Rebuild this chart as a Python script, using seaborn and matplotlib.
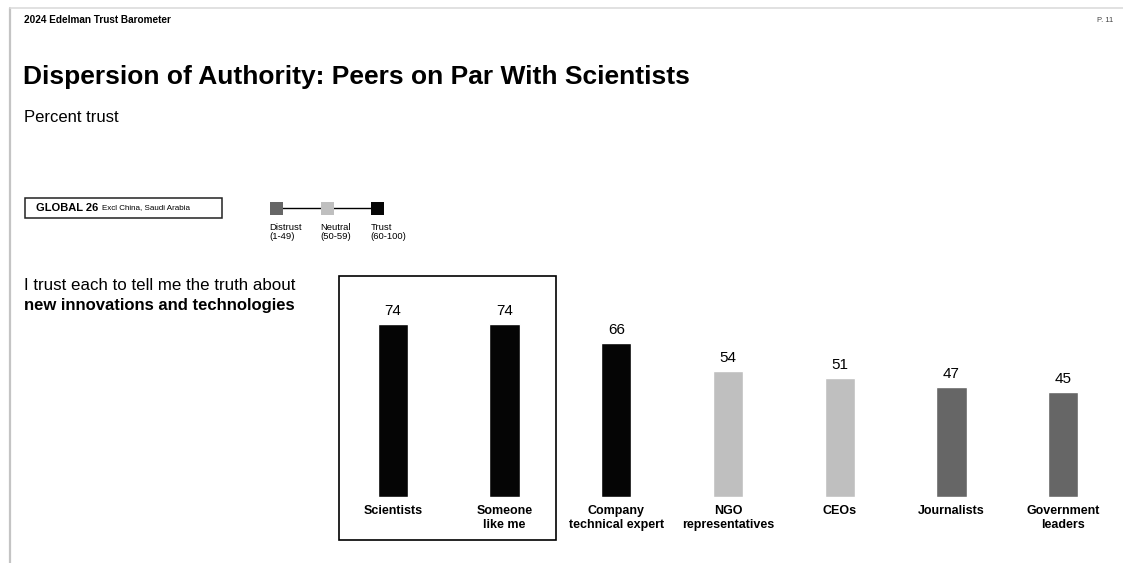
import matplotlib
matplotlib.use("Agg")
import matplotlib.pyplot as plt
from matplotlib.patches import Rectangle
from matplotlib.lines import Line2D
import seaborn as sns
import pandas as pd

# --- data ---------------------------------------------------------------
categories = ["Scientists", "Someone\nlike me", "Company\ntechnical expert",
              "NGO\nrepresentatives", "CEOs", "Journalists", "Government\nleaders"]
trust_pct = [74, 74, 66, 54, 51, 47, 45]

tier_names = ["Distrust", "Neutral", "Trust"]
tier_ranges = ["(1-49)", "(50-59)", "(60-100)"]
tier_colors = ["#666666", "#bfbfbf", "#050505"]


def tier_of(v):
    if v >= 60:
        return 2
    if v >= 50:
        return 1
    return 0


bar_colors = [tier_colors[tier_of(v)] for v in trust_pct]

df = pd.DataFrame({"who": categories, "pct": trust_pct})

# --- figure -------------------------------------------------------------
sns.set_theme(style="white")
plt.rcParams["font.family"] = ["Liberation Sans", "DejaVu Sans"]
plt.rcParams["text.color"] = "black"
plt.rcParams["xtick.color"] = "black"
plt.rcParams["xtick.labelcolor"] = "black"

W, H = 1123, 563
fig = plt.figure(figsize=(W / 100, H / 100), dpi=100)
fig.patch.set_facecolor("white")


def fx(px):
    return px / W


def fy(py):
    return 1 - py / H


# slide edge shading
fig.add_artist(Line2D([fx(10), fx(10)], [fy(8), 0], color="#c4c4c4", lw=1.6))
fig.add_artist(Line2D([fx(10), 1], [fy(8), fy(8)], color="#dcdcdc", lw=1.2))

# header texts
fig.text(fx(24), fy(20), "2024 Edelman Trust Barometer", fontsize=7.2,
         fontweight="bold", va="center", ha="left")
fig.text(fx(1113), fy(20), "P. 11", fontsize=5.5, color="#444444",
         va="center", ha="right")
fig.text(fx(23), fy(77), "Dispersion of Authority: Peers on Par With Scientists",
         fontsize=19, fontweight="bold", va="center", ha="left")
fig.text(fx(24), fy(118), "Percent trust", fontsize=12, va="center", ha="left")

# region box
fig.add_artist(Rectangle((fx(25), fy(218)), fx(197), 20 / H, fill=False,
                         edgecolor="#222222", lw=1.1))
t_glob = fig.text(fx(36), fy(208), "GLOBAL 26", fontsize=8, fontweight="bold",
                  va="center", ha="left")
fig.add_artist(matplotlib.text.Annotation(
    "Excl China, Saudi Arabia", xy=(1, 0.5), xycoords=t_glob,
    xytext=(3, 0), textcoords="offset points", fontsize=5.8,
    va="center", ha="left"))

# colour key
key_x = [276.5, 327.5, 377.5]
key_y = 208.5
fig.add_artist(Line2D([fx(key_x[0]), fx(key_x[-1])], [fy(key_y), fy(key_y)],
                      color="black", lw=1.0, zorder=1))
for cx, name, rng, col in zip(key_x, tier_names, tier_ranges, tier_colors):
    fig.add_artist(Rectangle((fx(cx - 6.5), fy(key_y + 6.5)), 13 / W, 13 / H,
                             facecolor=col, edgecolor="none", zorder=3))
    fig.text(fx(cx - 7), fy(223), f"{name}\n{rng}", fontsize=6.8,
             va="top", ha="left", linespacing=1.05)

# question text
fig.text(fx(24), fy(286), "I trust each to tell me the truth about",
         fontsize=12.2, va="center", ha="left")
fig.text(fx(24), fy(305), "new innovations and technologies",
         fontsize=12, fontweight="bold", va="center", ha="left")

# --- bars ---------------------------------------------------------------
ax = fig.add_axes([fx(337), fy(497), fx(1119) - fx(337), 234 / H])
sns.barplot(data=df, x="who", y="pct", hue="who", palette=bar_colors,
            width=0.27, legend=False, ax=ax, saturation=1)
ax.set_xlim(-0.5, len(categories) - 0.5)
ax.set_ylim(0, 100)
ax.set_xlabel("")
ax.set_ylabel("")
ax.set_yticks([])
ax.tick_params(axis="x", length=0, pad=6)
for lab in ax.get_xticklabels():
    lab.set_fontweight("bold")
    lab.set_fontsize(9)
    lab.set_verticalalignment("top")
for s in ax.spines.values():
    s.set_visible(False)
ax.patch.set_alpha(0)

for cont in ax.containers:
    ax.bar_label(cont, fmt="%d", padding=4, fontsize=11, color="black")

# highlight frame around the two leading groups
ax.add_patch(Rectangle((-0.485, -18.4), 1.945, 112.8, transform=ax.transData,
                       fill=False, edgecolor="black", lw=1.2, clip_on=False))

fig.savefig("out.png", dpi=100, facecolor="white")
